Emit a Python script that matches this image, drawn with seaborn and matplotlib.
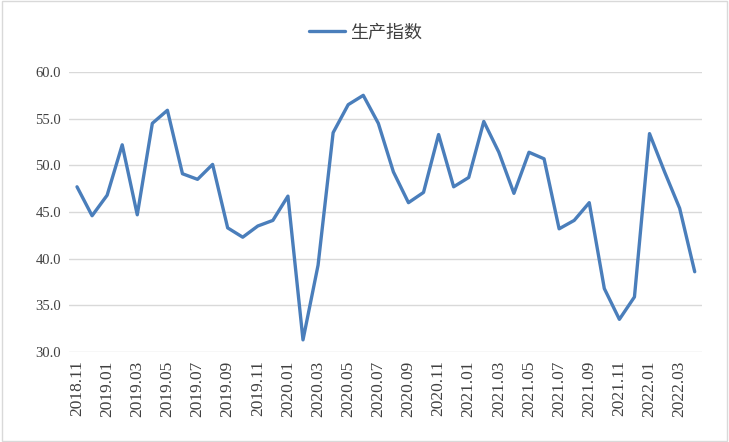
import seaborn as sns
import matplotlib.pyplot as plt
import matplotlib.patches as mpatches
import pandas as pd

months = ['2018.11', '2018.12', '2019.01', '2019.02', '2019.03', '2019.04', '2019.05', '2019.06',
          '2019.07', '2019.08', '2019.09', '2019.10', '2019.11', '2019.12', '2020.01', '2020.02',
          '2020.03', '2020.04', '2020.05', '2020.06', '2020.07', '2020.08', '2020.09', '2020.10',
          '2020.11', '2020.12', '2021.01', '2021.02', '2021.03', '2021.04', '2021.05', '2021.06',
          '2021.07', '2021.08', '2021.09', '2021.10', '2021.11', '2021.12', '2022.01', '2022.02',
          '2022.03', '2022.04']
production = [47.7, 44.6, 46.8, 52.2, 44.7, 54.5, 55.9, 49.1, 48.5, 50.1, 43.3, 42.3, 43.5, 44.1,
              46.7, 31.3, 39.3, 53.5, 56.5, 57.5, 54.5, 49.3, 46.0, 47.1, 53.3, 47.7, 48.7, 54.7,
              51.4, 47.0, 51.4, 50.7, 43.2, 44.1, 46.0, 36.8, 33.5, 35.9, 53.4, 49.3, 45.4, 38.6]
yticks = [30.0, 35.0, 40.0, 45.0, 50.0, 55.0, 60.0]

df = pd.DataFrame({'pos': range(len(months)), 'month': months, '生产指数': production})

sns.set_style('white')
plt.rcParams['font.family'] = ['Liberation Serif', 'Noto Sans CJK SC', 'DejaVu Sans']

fig = plt.figure(figsize=(7.29, 4.42), dpi=100)
ax = fig.add_axes([0.0953, 0.2036, 0.868, 0.6335])

sns.lineplot(data=df, x='pos', y='生产指数', color='#4a7ebb', linewidth=2.4, ax=ax, label='生产指数')

ax.set_xlim(-0.5, len(months) - 0.5)
ax.set_ylim(30, 60)
ax.set_yticks(yticks)
ax.set_yticklabels([f'{v:.1f}' for v in yticks], fontsize=10.5, color='#404040')
ax.set_xticks(df['pos'][::2])
ax.set_xticklabels(df['month'][::2], rotation=90, fontsize=12.5, color='#404040')
ax.tick_params(length=0, pad=6)
ax.grid(axis='y', color='#d9d9d9', linewidth=1)
ax.set_axisbelow(True)
for s in ax.spines.values():
    s.set_visible(False)
ax.set_xlabel('')
ax.set_ylabel('')

leg = ax.legend(loc='center', bbox_to_anchor=(0.468, 1.143), frameon=False,
                prop={'family': 'Noto Sans CJK SC', 'size': 13}, handlelength=2.0, handletextpad=0.3)
for t in leg.get_texts():
    t.set_color('#404040')

# light frame around the chart
fig.patches.append(mpatches.Rectangle((0.003, 0.003), 0.994, 0.994, transform=fig.transFigure,
                                      fill=False, edgecolor='#d9d9d9', linewidth=1))

plt.savefig('out.png', dpi=100)
